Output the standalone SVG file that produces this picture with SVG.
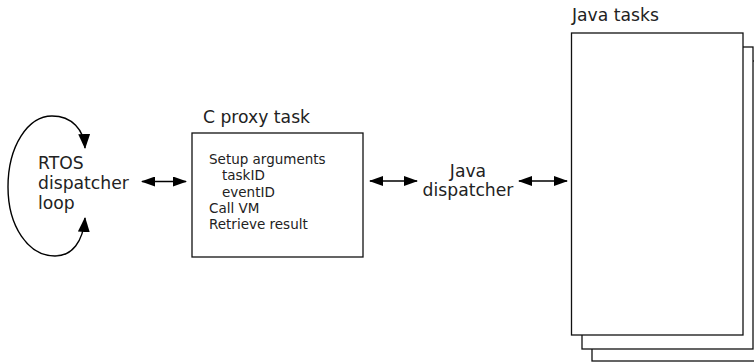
<svg xmlns="http://www.w3.org/2000/svg" width="754" height="362" viewBox="0 0 754 362">
<style>
.lbl{font-family:"DejaVu Sans",sans-serif;font-size:17.2px;fill:#222}
.sm{font-family:"DejaVu Sans",sans-serif;font-size:13.5px;fill:#222}
.box{fill:#fff;stroke:#111;stroke-width:1.3}
.con{fill:none;stroke:#000;stroke-width:1.4}
</style>
<defs>
<marker id="ah" viewBox="0 0 14 10" refX="13" refY="5" markerWidth="14" markerHeight="10" markerUnits="userSpaceOnUse" orient="auto-start-reverse">
<path d="M0,0 L14,5 L0,10 Z" fill="#000"/>
</marker>
<marker id="ahl" viewBox="0 0 15 12" refX="14" refY="6" markerWidth="15" markerHeight="12" markerUnits="userSpaceOnUse" orient="auto-start-reverse">
<path d="M0,0 L15,6 L0,12 Z" fill="#000"/>
</marker>
</defs>
<g id="rtos">
<text class="lbl" x="38" y="169">RTOS</text>
<text class="lbl" x="38" y="189">dispatcher</text>
<text class="lbl" x="38" y="209">loop</text>
</g>
<g id="cproxy">
<text class="lbl" x="203" y="123">C proxy task</text>
<rect class="box" x="192" y="133" width="171" height="124"/>
<text class="sm" x="209" y="164">Setup arguments</text>
<text class="sm" x="222" y="180">taskID</text>
<text class="sm" x="222" y="196.5">eventID</text>
<text class="sm" x="209" y="213">Call VM</text>
<text class="sm" x="209" y="229">Retrieve result</text>
</g>
<g id="javadispatcher">
<text class="lbl" x="468" y="177" text-anchor="middle">Java</text>
<text class="lbl" x="468" y="196" text-anchor="middle">dispatcher</text>
</g>
<g id="javatasks">
<text class="lbl" x="572" y="21">Java tasks</text>
<rect class="box" x="592" y="61" width="180" height="300"/>
<rect class="box" x="582" y="47" width="171" height="302"/>
<rect class="box" x="571.5" y="33" width="171.5" height="302"/>
</g>
<g id="connectors">
<path class="con" d="M85,218 C83,242 72,256 55,256 C28,256 8,226 8,187 C8,146 28,116 52,116 C72,116 84,130 85,148" marker-start="url(#ahl)" marker-end="url(#ahl)"/>
<line class="con" x1="142" y1="181.5" x2="186" y2="181.5" marker-start="url(#ah)" marker-end="url(#ah)"/>
<line class="con" x1="370" y1="181" x2="417" y2="181" marker-start="url(#ah)" marker-end="url(#ah)"/>
<line class="con" x1="519" y1="181" x2="567" y2="181" marker-start="url(#ah)" marker-end="url(#ah)"/>
</g>
</svg>
